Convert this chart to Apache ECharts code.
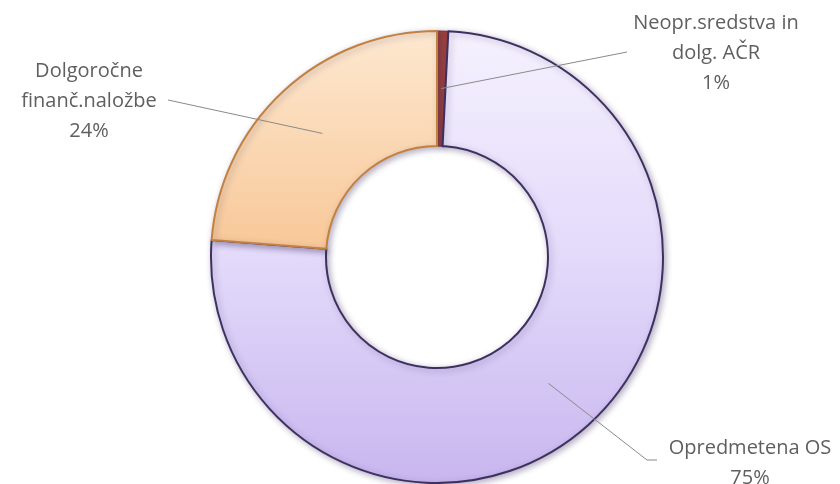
<!DOCTYPE html>
<html><head><meta charset="utf-8">
<script src="https://cdn.jsdelivr.net/npm/echarts@6/dist/echarts.min.js"></script>
<style>html,body{margin:0;padding:0;background:#fff}#c{width:840px;height:484px}</style>
</head><body><div id="c"></div>
<script>
// ---- data ----
const categories = ['Neopr.sredstva in\ndolg. AČR', 'Opredmetena OS', 'Dolgoročne\nfinanč.naložbe'];
const shares = [0.8, 75.4, 23.8];

// ---- styles / layout ----
const G = echarts.graphic;
const fills = [
  '#a2443c',
  new G.LinearGradient(0, 0, 0, 1, [{offset: 0, color: '#f5f1fe'}, {offset: 0.5, color: '#e3dafa'}, {offset: 1, color: '#c8b6ef'}]),
  new G.LinearGradient(0, 0, 0, 1, [{offset: 0, color: '#fde8d0'}, {offset: 1, color: '#f8c898'}])
];
const borders = ['#7a2a28', '#3e3160', '#c2813f'];
const labelPos = [[716, 53, 627, 52], [750, 463, 657, 460], [89, 101, 168, 100]];

const chart = echarts.init(document.getElementById('c'), null, {renderer: 'canvas'});
const option = {
  animation: false,
  backgroundColor: '#ffffff',
  series: [{
    type: 'pie',
    center: [437, 257],
    radius: [111, 226],
    startAngle: 90,
    clockwise: true,
    avoidLabelOverlap: false,
    data: categories.map((n, i) => ({
      name: n, value: shares[i],
      itemStyle: {
        color: fills[i], borderColor: borders[i], borderWidth: i === 0 ? 1 : 2,
        shadowColor: 'rgba(50,35,90,0.35)', shadowBlur: 6, shadowOffsetX: 2, shadowOffsetY: 2
      }
    })),
    label: {
      show: true, position: 'outside',
      formatter: p => p.name + '\n' + Math.round(p.value) + '%',
      fontFamily: 'Open Sans', fontSize: 20, color: '#5f5f5f',
      lineHeight: 30, align: 'center'
    },
    labelLine: {show: false},
    labelLayout: p => ({
      x: labelPos[p.dataIndex][0], y: labelPos[p.dataIndex][1],
      align: 'center', verticalAlign: 'middle'
    })
  }]
};
chart.setOption(option);

// leader lines from the mid-ring point of each slice (library layout) to its label
const data = chart.getModel().getSeriesByIndex(0).getData();
const lines = [];
for (let i = 0; i < categories.length; i++) {
  const L = data.getItemLayout(i);
  const a = (L.startAngle + L.endAngle) / 2;
  const rm = (L.r + L.r0) / 2;
  const sx = L.cx + rm * Math.cos(a), sy = L.cy + rm * Math.sin(a);
  const ex = labelPos[i][2], ey = labelPos[i][3];
  const pts = i === 1 ? [[sx, sy], [ex - 10, ey], [ex, ey]] : [[sx, sy], [ex, ey]];
  lines.push({type: 'polyline', z: 100, shape: {points: pts},
    style: {stroke: '#8a8a8a', lineWidth: 1, fill: null}});
}
chart.setOption({graphic: lines});
</script></body></html>
